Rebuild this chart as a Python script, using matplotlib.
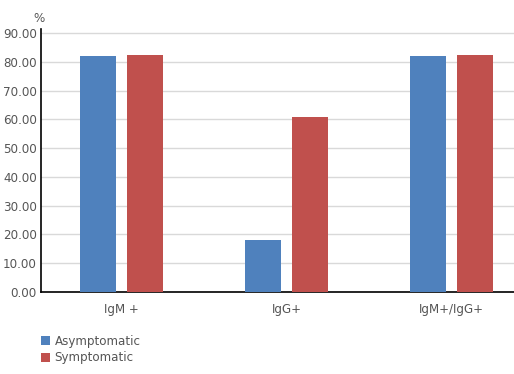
import numpy as np
import matplotlib.pyplot as plt

# datos
categories = ['IgM +', 'IgG+', 'IgM+/IgG+']
asymptomatic = [82.0, 18.1, 82.0]
symptomatic = [82.3, 60.8, 82.3]
y_ticks = [0, 10, 20, 30, 40, 50, 60, 70, 80, 90]

blue = '#4F81BD'
red = '#C0504D'
grey_txt = '#555555'

fig = plt.figure(figsize=(5.14, 3.74), dpi=100)
ax = fig.add_axes([41 / 514, 82 / 374, 1 - 41 / 514, 1 - 29 / 374 - 82 / 374])

x = np.arange(len(categories))
w = 0.218
ax.bar(x - 0.142, asymptomatic, w, color=blue, label='Asymptomatic', zorder=3)
ax.bar(x + 0.142, symptomatic, w, color=red, label='Symptomatic', zorder=3)

ax.set_xlim(-0.488, 2.379)
ax.set_ylim(0, 91.4)
ax.set_yticks(y_ticks)
ax.set_yticklabels(['%.2f' % v for v in y_ticks], color=grey_txt, fontsize=8.6)
ax.set_xticks(x)
ax.set_xticklabels(categories, color=grey_txt, fontsize=8.6)
ax.tick_params(length=0, axis='y', pad=3)
ax.tick_params(length=0, axis='x', pad=8)

ax.grid(axis='y', color='#d9d9d9', linewidth=1, zorder=0)
for s in ['top', 'right']:
    ax.spines[s].set_visible(False)
ax.spines['left'].set_color('black')
ax.spines['bottom'].set_color('black')
ax.spines['left'].set_linewidth(1.2)
ax.spines['bottom'].set_linewidth(1.2)

fig.text(33 / 514, 1 - 18 / 374, '%', color=grey_txt, fontsize=8.6, va='center')

fig.legend(loc='upper left', bbox_to_anchor=(30 / 514, 1 - 324 / 374), frameon=False,
           fontsize=8.6, handlelength=0.75, handleheight=0.75, handletextpad=0.4,
           labelspacing=0.3, labelcolor=grey_txt)

fig.savefig('out.png', dpi=100)
